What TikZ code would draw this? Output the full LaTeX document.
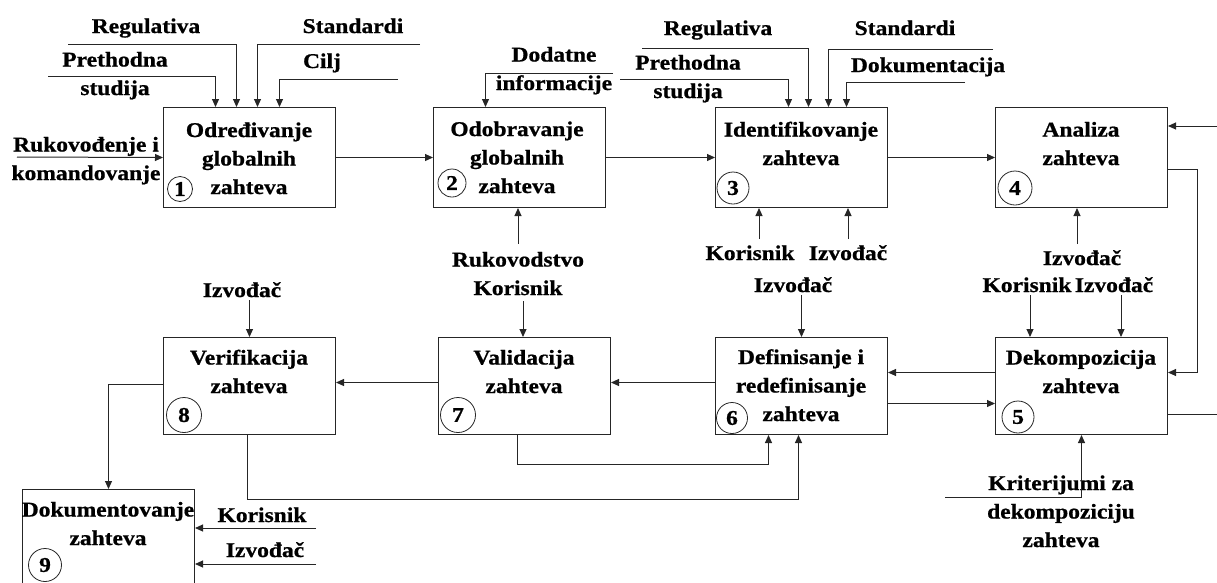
\documentclass[tikz,border=0pt]{standalone}
\usepackage{fontspec}
\setmainfont{Liberation Serif}[FakeStretch=1.12, BoldFeatures={FakeBold=0.8}]
\usetikzlibrary{arrows.meta}

\tikzset{
  proc/.style={draw=black!85, line width=1pt, minimum width=172pt, minimum height=100pt,
    inner sep=0pt, anchor=north west},
  procb/.style={proc, minimum height=97pt},
  num/.style={draw=black!85, line width=0.8pt, circle, inner sep=0pt},
  % multi-line texts are placed by the baseline of their last line
  txt/.style={align=center, inner sep=0pt, anchor=base},
  lbl/.style={align=center, inner sep=3pt, anchor=base},
  flow/.style={draw=black!85, line width=1pt, -{Triangle[length=8pt,width=7pt]}},
  wire/.style={draw=black!85, line width=1pt},
  every node/.style={font=\bfseries\fontsize{21}{28.5}\selectfont}
}

\begin{document}
\begin{tikzpicture}[x=1pt, y=-1pt]
\useasboundingbox (0,0) rectangle (1217,582);

% process boxes, first row
\node[proc] (b1) at (163,107) {};
\node[proc] (b2) at (433,107) {};
\node[proc] (b3) at (715,107) {};
\node[proc] (b4) at (995,107) {};
% second row
\node[procb] (b8) at (163,337) {};
\node[procb] (b7) at (438,337) {};
\node[procb] (b6) at (715,337) {};
\node[procb] (b5) at (995,337) {};
% documentation box, running past the lower edge
\node[proc] (b9) at (22,489) {};

% box titles
\node[txt] (t1) at (249,194) {Određivanje\\globalnih\\zahteva};
\node[txt] (t2) at (517,193) {Odobravanje\\globalnih\\zahteva};
\node[txt] (t3) at (801,165) {Identifikovanje\\zahteva};
\node[txt] (t4) at (1081,165) {Analiza\\zahteva};
\node[txt] (t8) at (249,393) {Verifikacija\\zahteva};
\node[txt] (t7) at (524,393) {Validacija\\zahteva};
\node[txt] (t6) at (801,421) {Definisanje i\\redefinisanje\\zahteva};
\node[txt] (t5) at (1081,393) {Dekompozicija\\zahteva};
\node[txt] (t9) at (108,545) {Dokumentovanje\\zahteva};

% step numbers
\node[num, minimum size=25pt] (c1) at (180,189) {1};
\node[num, minimum size=28pt] (c2) at (452,183) {2};
\node[num, minimum size=32pt] (c3) at (733,188) {3};
\node[num, minimum size=34pt] (c4) at (1015,188) {4};
\node[num, minimum size=32pt] (c5) at (1018,417) {5};
\node[num, minimum size=31pt] (c6) at (732,418) {6};
\node[num, minimum size=35pt] (c7) at (458,415) {7};
\node[num, minimum size=35pt] (c8) at (184,415) {8};
\node[num, minimum size=33pt] (c9) at (45,565) {9};

% main flow
\draw[flow] (b1.east) -- (b2.west);
\draw[flow] (b2.east) -- (b3.west);
\draw[flow] (b3.east) -- (b4.west);
\draw[flow] ([yshift=-12pt]b4.east) -- ++(29,0) |- ([yshift=13.5pt]b5.east);
\draw[flow] ([yshift=13.5pt]b5.west) -- ([yshift=13.5pt]b6.east);
\draw[flow] ([yshift=-17.5pt]b6.east) -- ([yshift=-17.5pt]b5.west);
\draw[flow] ([yshift=3.5pt]b6.west) -- ([yshift=3.5pt]b7.east);
\draw[flow] ([yshift=3.5pt]b7.west) -- ([yshift=3.5pt]b8.east);
\draw[flow] ([yshift=1.5pt]b8.west) -| (b9.north);
\draw[flow] ([xshift=-2pt]b8.south) -- ++(0,64) -| ([xshift=-3pt]b6.south);
\draw[flow] ([xshift=-7.5pt]b7.south) -- ++(0,29) -| ([xshift=-33pt]b6.south);

% feedback at the right edge
\coordinate (e4) at (1217,126);
\draw[flow] (e4) -- (e4 -| b4.east);
\coordinate (e5) at (1217,414);
\draw[wire] (e5 -| b5.east) -- (e5);

% inputs of box 1
\node[lbl] (r1) at (146,33) {Regulativa};
\node[lbl] (s1) at (353,33) {Standardi};
\node[lbl] (p1) at (115,95) {Prethodna\\studija};
\node[lbl] (g1) at (322,68) {Cilj};
\node[lbl] (k1) at (86,180) {Rukovođenje i\\komandovanje};
\coordinate (wr1) at (68,44);
\coordinate (ws1) at (420,44);
\coordinate (wp1) at (48,76);
\coordinate (wg1) at (398,79);
\coordinate (wk1) at (17,157);
\draw[flow] (wr1) -| ([xshift=-13pt]b1.north);
\draw[flow] (ws1) -| ([xshift=8pt]b1.north);
\draw[flow] (wp1) -| ([xshift=-34pt]b1.north);
\draw[flow] (wg1) -| ([xshift=30pt]b1.north);
\draw[flow] (wk1) -- (b1.west);

% inputs of box 2
\node[lbl] (d2) at (554,90) {Dodatne\\informacije};
\coordinate (wd2) at (613,73);
\draw[flow] (wd2) -| ([xshift=-34pt]b2.north);
\node[lbl] (rk) at (518,295) {Rukovodstvo\\Korisnik};
\coordinate (rku) at ([yshift=5pt]rk.north);
\draw[flow] (rku) -- (rku |- b2.south);
\coordinate (rkd) at ([xshift=5pt,yshift=-3pt]rk.south);
\draw[flow] (rkd) -- (rkd |- b7.north);

% inputs of box 3
\node[lbl] (r3) at (718,35) {Regulativa};
\node[lbl] (s3) at (905,35) {Standardi};
\node[lbl] (p3) at (688,98) {Prethodna\\studija};
\node[lbl] (d3) at (928,72) {Dokumentacija};
\coordinate (wr3) at (642,48);
\coordinate (ws3) at (993,49);
\coordinate (wp3) at (620,79);
\coordinate (wd3) at (965,82);
\draw[flow] (wr3) -| ([xshift=7pt]b3.north);
\draw[flow] (ws3) -| ([xshift=27pt]b3.north);
\draw[flow] (wp3) -| ([xshift=-13pt]b3.north);
\draw[flow] (wd3) -| ([xshift=45pt]b3.north);
\node[lbl] (k3) at (750,260) {Korisnik};
\node[lbl] (i3) at (848,260) {Izvođač};
\coordinate (k3u) at ([xshift=9pt,yshift=3pt]k3.north);
\draw[flow] (k3u) -- (k3u |- b3.south);
\coordinate (i3u) at ([yshift=3pt]i3.north);
\draw[flow] (i3u) -- (i3u |- b3.south);

% input of box 4
\node[lbl] (i4) at (1082,265) {Izvođač};
\coordinate (i4u) at ([xshift=-5pt,yshift=3pt]i4.north);
\draw[flow] (i4u) -- (i4u |- b4.south);

% inputs of boxes 8, 6 and 5
\node[lbl] (i8) at (242,297) {Izvođač};
\draw[flow] (b8.north |- i8.south) -- (b8.north);
\node[lbl] (i6) at (793,292) {Izvođač};
\draw[flow] (b6.north |- i6.south) -- (b6.north);
\node[lbl] (k5) at (1027,292) {Korisnik};
\node[lbl] (i5) at (1114,292) {Izvođač};
\coordinate (k5d) at ([xshift=3pt]k5.south);
\draw[flow] (k5d) -- (k5d |- b5.north);
\coordinate (i5d) at ([xshift=7pt]i5.south);
\draw[flow] (i5d) -- (i5d |- b5.north);

% decomposition criteria
\node[lbl] (kr) at (1061,547) {Kriterijumi za\\dekompoziciju\\zahteva};
\coordinate (wkr) at (945,497);
\draw[flow] (wkr) -| (b5.south);

% inputs of box 9
\node[lbl] (k9) at (262,522) {Korisnik};
\node[lbl] (i9) at (265,557) {Izvođač};
\coordinate (wk9) at (316,528);
\coordinate (wi9) at (316,564);
\draw[flow] (wk9) -- (wk9 -| b9.east);
\draw[flow] (wi9) -- (wi9 -| b9.east);
\end{tikzpicture}
\end{document}
